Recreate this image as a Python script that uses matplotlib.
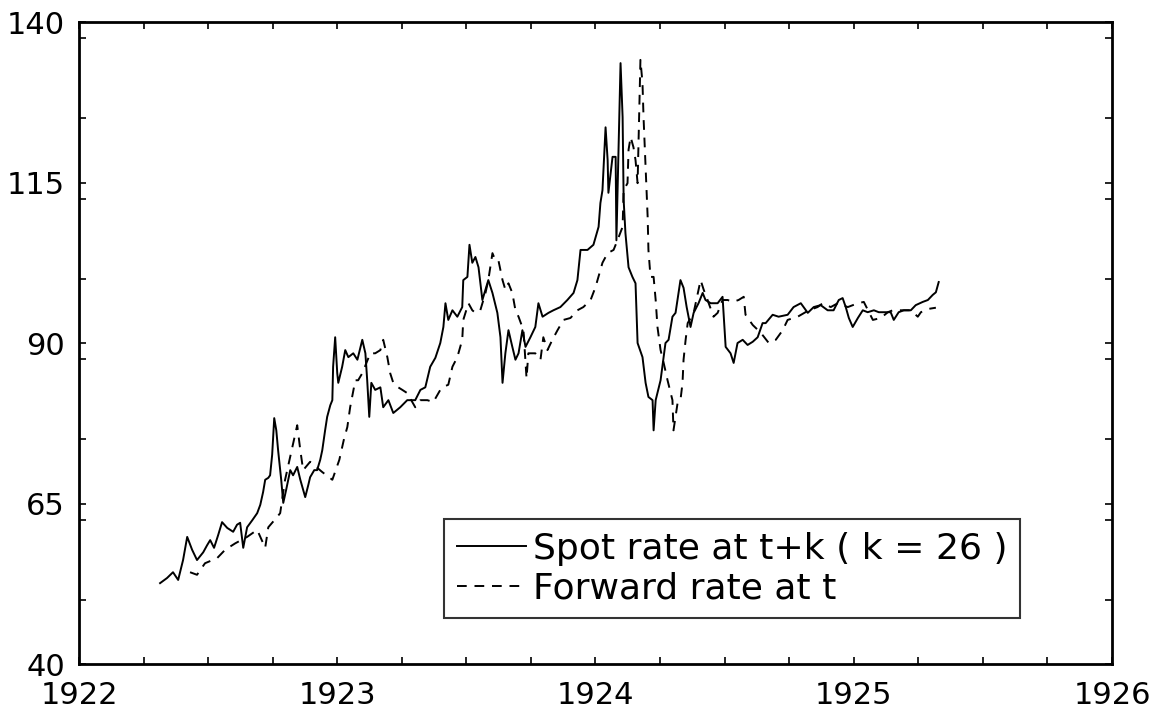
import matplotlib
matplotlib.use("Agg")
import matplotlib.pyplot as plt
from matplotlib.ticker import MultipleLocator

# Tipo de cambio spot (t+k) y forward (t), lectura aproximada del grafico
spot_year = [1922.314, 1922.341, 1922.364, 1922.384, 1922.403, 1922.419, 1922.438, 1922.457,
             1922.481, 1922.496, 1922.508, 1922.523, 1922.539, 1922.554, 1922.574, 1922.597,
             1922.612, 1922.624, 1922.636, 1922.651, 1922.671, 1922.690, 1922.702, 1922.713,
             1922.721, 1922.733, 1922.740, 1922.748, 1922.756, 1922.764, 1922.771, 1922.783,
             1922.791, 1922.802, 1922.818, 1922.829, 1922.845, 1922.857, 1922.868, 1922.876,
             1922.888, 1922.895, 1922.911, 1922.922, 1922.934, 1922.942, 1922.953, 1922.961,
             1922.973, 1922.981, 1922.984, 1922.992, 1923.000, 1923.004, 1923.019, 1923.031,
             1923.043, 1923.062, 1923.078, 1923.097, 1923.109, 1923.116, 1923.124, 1923.132,
             1923.147, 1923.167, 1923.178, 1923.198, 1923.217, 1923.244, 1923.271, 1923.302,
             1923.322, 1923.341, 1923.360, 1923.380, 1923.399, 1923.411, 1923.419, 1923.430,
             1923.446, 1923.465, 1923.484, 1923.488, 1923.504, 1923.512, 1923.523, 1923.535,
             1923.547, 1923.562, 1923.574, 1923.585, 1923.601, 1923.620, 1923.632, 1923.640,
             1923.651, 1923.663, 1923.678, 1923.690, 1923.702, 1923.717, 1923.729, 1923.748,
             1923.767, 1923.779, 1923.795, 1923.818, 1923.837, 1923.864, 1923.891, 1923.915,
             1923.930, 1923.942, 1923.969, 1923.992, 1924.012, 1924.019, 1924.027, 1924.039,
             1924.047, 1924.050, 1924.066, 1924.078, 1924.081, 1924.089, 1924.097, 1924.105,
             1924.109, 1924.116, 1924.128, 1924.143, 1924.155, 1924.163, 1924.182, 1924.194,
             1924.205, 1924.221, 1924.225, 1924.233, 1924.252, 1924.264, 1924.271, 1924.283,
             1924.298, 1924.310, 1924.329, 1924.341, 1924.353, 1924.368, 1924.380, 1924.399,
             1924.415, 1924.426, 1924.446, 1924.473, 1924.492, 1924.504, 1924.523, 1924.535,
             1924.550, 1924.570, 1924.589, 1924.609, 1924.628, 1924.647, 1924.659, 1924.686,
             1924.709, 1924.744, 1924.767, 1924.795, 1924.822, 1924.845, 1924.872, 1924.899,
             1924.922, 1924.942, 1924.957, 1924.969, 1924.981, 1924.996, 1925.016, 1925.035,
             1925.054, 1925.078, 1925.097, 1925.124, 1925.143, 1925.155, 1925.174, 1925.194,
             1925.221, 1925.240, 1925.267, 1925.287, 1925.306, 1925.318, 1925.329]
spot_rate = [52.6, 53.4, 54.3, 53.1, 56.2, 59.8, 57.8, 56.2,
             57.4, 58.5, 59.3, 58.1, 60.1, 62.1, 61.2, 60.6,
             61.7, 62.0, 58.1, 61.3, 62.4, 63.5, 64.8, 66.8,
             68.7, 69.0, 69.4, 72.6, 78.3, 76.4, 73.3, 68.7,
             65.1, 67.1, 70.2, 69.4, 70.7, 68.7, 67.1, 66.0,
             67.9, 69.1, 70.2, 70.2, 71.8, 73.3, 76.4, 78.5,
             80.3, 81.1, 86.3, 90.9, 85.3, 83.8, 86.3, 88.9,
             87.8, 88.4, 87.4, 90.5, 88.4, 84.2, 78.5, 83.8,
             82.7, 83.1, 80.0, 81.1, 79.1, 80.0, 81.1, 81.1,
             82.7, 83.1, 86.3, 87.7, 90.0, 92.5, 96.2, 93.6,
             95.1, 94.1, 95.6, 99.8, 100.3, 105.3, 102.5, 103.4,
             101.8, 96.7, 98.3, 99.8, 97.8, 94.7, 90.9, 83.8,
             88.4, 92.0, 89.4, 87.4, 88.4, 92.0, 89.4, 90.9,
             92.5, 96.2, 94.1, 94.7, 95.1, 95.6, 96.7, 97.8,
             99.8, 104.5, 104.5, 105.3, 108.1, 111.8, 113.8, 123.6,
             118.5, 113.4, 119.0, 119.0, 106.0, 120.1, 133.6, 125.2,
             112.3, 107.1, 101.8, 100.3, 99.3, 90.0, 87.8, 83.8,
             81.6, 81.1, 76.4, 81.1, 84.2, 87.8, 90.0, 90.5,
             94.1, 94.7, 99.8, 98.6, 95.6, 92.5, 94.7, 96.2,
             97.8, 96.7, 96.2, 96.2, 97.2, 89.4, 88.4, 86.9,
             90.0, 90.5, 89.7, 90.2, 90.9, 93.1, 93.1, 94.4,
             94.1, 94.4, 95.6, 96.2, 94.7, 95.6, 95.9, 95.1,
             95.1, 96.7, 97.0, 95.6, 93.9, 92.5, 93.9, 95.1,
             94.8, 95.1, 94.8, 94.8, 94.8, 93.6, 94.8, 95.1,
             95.1, 95.9, 96.4, 96.7, 97.5, 97.9, 99.5]

fwd_year = [1922.430, 1922.457, 1922.488, 1922.535, 1922.566, 1922.605, 1922.651, 1922.690,
            1922.721, 1922.733, 1922.767, 1922.779, 1922.798, 1922.845, 1922.857, 1922.868,
            1922.895, 1922.942, 1922.981, 1923.008, 1923.027, 1923.039, 1923.050, 1923.070,
            1923.081, 1923.097, 1923.128, 1923.147, 1923.167, 1923.178, 1923.194, 1923.205,
            1923.217, 1923.236, 1923.252, 1923.271, 1923.302, 1923.322, 1923.349, 1923.372,
            1923.399, 1923.407, 1923.430, 1923.446, 1923.465, 1923.484, 1923.488, 1923.508,
            1923.523, 1923.535, 1923.554, 1923.574, 1923.585, 1923.601, 1923.612, 1923.624,
            1923.640, 1923.651, 1923.663, 1923.678, 1923.690, 1923.702, 1923.721, 1923.733,
            1923.740, 1923.767, 1923.787, 1923.798, 1923.814, 1923.833, 1923.853, 1923.876,
            1923.903, 1923.930, 1923.953, 1923.981, 1924.000, 1924.027, 1924.047, 1924.070,
            1924.085, 1924.105, 1924.109, 1924.124, 1924.128, 1924.136, 1924.147, 1924.155,
            1924.163, 1924.167, 1924.174, 1924.182, 1924.186, 1924.194, 1924.202, 1924.205,
            1924.213, 1924.225, 1924.233, 1924.240, 1924.252, 1924.264, 1924.279, 1924.298,
            1924.302, 1924.318, 1924.329, 1924.337, 1924.341, 1924.349, 1924.357, 1924.380,
            1924.407, 1924.419, 1924.434, 1924.457, 1924.473, 1924.492, 1924.512, 1924.531,
            1924.554, 1924.574, 1924.581, 1924.609, 1924.640, 1924.671, 1924.698, 1924.725,
            1924.744, 1924.783, 1924.826, 1924.860, 1924.880, 1924.911, 1924.938, 1924.977,
            1925.016, 1925.039, 1925.074, 1925.105, 1925.132, 1925.151, 1925.182, 1925.221,
            1925.248, 1925.260, 1925.287, 1925.318]
fwd_rate = [54.3, 53.9, 55.7, 56.5, 57.8, 58.8, 59.8, 60.9,
            58.1, 61.3, 62.9, 63.5, 68.7, 77.2, 73.3, 70.2,
            71.5, 69.9, 68.7, 71.8, 75.2, 76.9, 80.0, 84.2,
            84.2, 85.3, 88.4, 88.4, 88.9, 90.5, 87.8, 85.3,
            83.8, 83.1, 82.7, 82.2, 80.0, 81.1, 81.1, 80.8,
            82.7, 83.1, 83.5, 86.3, 87.8, 90.5, 93.6, 96.2,
            95.1, 94.7, 95.1, 97.8, 99.8, 104.0, 102.9, 102.9,
            99.8, 98.3, 99.3, 97.8, 95.1, 94.1, 92.0, 84.5,
            88.4, 88.4, 87.4, 90.9, 88.9, 90.5, 92.0, 93.6,
            93.9, 95.1, 95.6, 96.7, 98.7, 102.5, 104.0, 104.5,
            106.0, 108.1, 113.8, 114.9, 120.1, 122.1, 120.5, 118.5,
            114.9, 122.1, 134.1, 130.5, 125.2, 117.4, 109.6, 104.5,
            100.3, 100.3, 96.7, 92.5, 88.9, 86.9, 84.2, 81.1,
            76.4, 80.7, 81.1, 83.8, 87.4, 90.5, 93.1, 94.7,
            99.8, 98.3, 96.7, 94.1, 94.7, 96.7, 96.7, 96.4,
            96.7, 97.2, 94.4, 92.8, 91.6, 90.0, 90.5, 92.0,
            93.6, 94.1, 95.1, 95.6, 96.2, 95.6, 96.2, 95.6,
            96.2, 96.4, 93.6, 93.9, 94.8, 95.1, 95.1, 95.1,
            94.1, 94.8, 95.3, 95.5]

x_ticks = [1922, 1923, 1924, 1925, 1926]
y_ticks = [40, 65, 90, 115, 140]
legend_labels = ["Spot rate at t+k ( k = 26 )", "Forward rate at t"]

# Figura
fig = plt.figure(figsize=(11.72, 7.08), dpi=100)
ax = fig.add_axes([0.0674, 0.0621, 0.8814, 0.9068])

ax.plot(spot_year, spot_rate, color="black", lw=1.4, label=legend_labels[0])
ax.plot(fwd_year, fwd_rate, color="black", lw=1.4, ls=(0, (5, 4)), label=legend_labels[1])

ax.set_xlim(1922, 1926)
ax.set_ylim(40, 140)
ax.set_xticks(x_ticks)
ax.set_yticks(y_ticks)
ax.xaxis.set_minor_locator(MultipleLocator(0.25))
ax.yaxis.set_minor_locator(MultipleLocator(12.5))
ax.tick_params(which="both", direction="in", top=True, right=True, length=5, width=1.2)
ax.tick_params(axis="x", labelsize=22, pad=12)
ax.tick_params(axis="y", labelsize=22, pad=10)
for s in ax.spines.values():
    s.set_linewidth(2)

leg = ax.legend(loc="lower right", bbox_to_anchor=(0.911, 0.0717), fontsize=26,
                frameon=True, fancybox=False, handlelength=1.9, handletextpad=0.2,
                borderpad=0.35, labelspacing=0.15, borderaxespad=0)
leg.get_frame().set_edgecolor("black")
leg.get_frame().set_linewidth(1.5)

fig.savefig("out.png", dpi=100)
